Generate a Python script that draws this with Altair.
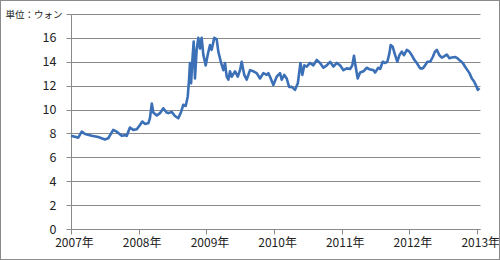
import altair as alt
import pandas as pd

dates = [
    "2007-01-01", "2007-02-09", "2007-02-28", "2007-03-18", "2007-04-23", "2007-05-28",
    "2007-07-03", "2007-07-21", "2007-08-17", "2007-09-05", "2007-10-02", "2007-10-19",
    "2007-10-29", "2007-11-15", "2007-12-03", "2007-12-22", "2008-01-08", "2008-01-21",
    "2008-02-04", "2008-02-22", "2008-03-02", "2008-03-12", "2008-03-20", "2008-04-08",
    "2008-04-25", "2008-05-13", "2008-05-31", "2008-06-09", "2008-06-27", "2008-07-15",
    "2008-08-02", "2008-08-17", "2008-08-29", "2008-09-11", "2008-09-22", "2008-09-29",
    "2008-10-04", "2008-10-10", "2008-10-17", "2008-10-24", "2008-10-31", "2008-11-09",
    "2008-11-18", "2008-11-27", "2008-12-06", "2008-12-15", "2008-12-28", "2009-01-08",
    "2009-01-20", "2009-01-29", "2009-02-12", "2009-02-25", "2009-03-06", "2009-03-21",
    "2009-04-02", "2009-04-11", "2009-04-20", "2009-04-29", "2009-05-08", "2009-05-17",
    "2009-06-04", "2009-06-19", "2009-07-01", "2009-07-10", "2009-07-24", "2009-08-06",
    "2009-08-24", "2009-09-11", "2009-09-29", "2009-10-17", "2009-11-04", "2009-11-22",
    "2009-12-01", "2009-12-10", "2009-12-28", "2010-01-15", "2010-02-02", "2010-02-11",
    "2010-02-25", "2010-03-10", "2010-03-23", "2010-04-06", "2010-04-24", "2010-05-09",
    "2010-05-16", "2010-05-23", "2010-06-02", "2010-06-13", "2010-06-26", "2010-07-14",
    "2010-08-01", "2010-08-19", "2010-09-06", "2010-09-24", "2010-10-12", "2010-10-30",
    "2010-11-17", "2010-12-05", "2010-12-23", "2011-01-10", "2011-01-28", "2011-02-15",
    "2011-02-27", "2011-03-08", "2011-03-17", "2011-03-28", "2011-04-10", "2011-04-28",
    "2011-05-16", "2011-06-03", "2011-06-21", "2011-06-30", "2011-07-17", "2011-07-27",
    "2011-08-10", "2011-08-23", "2011-09-04", "2011-09-15", "2011-09-22", "2011-10-03",
    "2011-10-16", "2011-10-28", "2011-11-08", "2011-11-21", "2011-12-03", "2011-12-18",
    "2012-01-01", "2012-01-14", "2012-01-26", "2012-02-10", "2012-02-28", "2012-03-13",
    "2012-03-26", "2012-04-07", "2012-04-22", "2012-05-06", "2012-05-18", "2012-05-28",
    "2012-06-11", "2012-06-24", "2012-07-06", "2012-07-21", "2012-08-04", "2012-08-17",
    "2012-09-03", "2012-09-16", "2012-09-30", "2012-10-15", "2012-10-27", "2012-11-09",
    "2012-11-20", "2012-12-03", "2012-12-15", "2012-12-26", "2013-01-04", "2013-01-13",
]
values = [
    7.8, 7.65, 8.15, 7.95, 7.8, 7.7,
    7.5, 7.6, 8.3, 8.15, 7.8, 7.85,
    7.8, 8.5, 8.3, 8.35, 8.7, 9.0,
    8.8, 8.85, 9.27, 10.5, 9.75, 9.5,
    9.7, 10.1, 9.75, 9.7, 9.8, 9.46,
    9.27, 9.8, 10.4, 10.3, 11.1, 12.5,
    13.9, 12.2, 14.15, 15.7, 12.6, 15.0,
    16.0, 15.1, 16.0, 14.6, 13.7, 14.6,
    15.4, 15.0, 16.0, 15.9, 14.85, 13.9,
    13.3, 13.9, 12.75, 12.5, 13.2, 12.75,
    13.2, 12.75, 13.3, 14.0, 12.9, 12.5,
    13.3, 13.2, 13.05, 12.6, 13.05, 12.9,
    13.05, 12.75, 12.05, 12.75, 13.05, 12.5,
    12.9, 12.6, 11.9, 11.9, 11.65, 12.2,
    13.05, 13.9, 12.9, 13.7, 13.6, 13.9,
    13.7, 14.15, 13.9, 13.5, 13.7, 14.0,
    13.6, 13.9, 13.7, 13.3, 13.45, 13.4,
    13.7, 14.5, 13.6, 12.6, 13.1, 13.2,
    13.5, 13.35, 13.3, 13.1, 13.5, 13.4,
    14.0, 13.9, 14.0, 14.7, 15.4, 15.25,
    14.55, 14.0, 14.55, 14.85, 14.55, 15.0,
    14.85, 14.55, 14.2, 13.9, 13.45, 13.45,
    13.7, 14.0, 14.0, 14.4, 14.85, 15.0,
    14.55, 14.35, 14.45, 14.6, 14.3, 14.35,
    14.4, 14.3, 14.1, 13.9, 13.6, 13.3,
    13.05, 12.6, 12.35, 12.0, 11.65, 11.8,
]
year_ticks = ["2007-01-01", "2008-01-01", "2009-01-01", "2010-01-01",
              "2011-01-01", "2012-01-01", "2013-01-01"]
y_ticks = [0, 2, 4, 6, 8, 10, 12, 14, 16, 18]
unit_label = "単位：ウォン"

df = pd.DataFrame({"date": pd.to_datetime(dates), "value": values})

FONT = "Noto Sans CJK JP"
GRAY = "#8a8a8a"

x_scale = alt.Scale(domain=["2007-01-01", "2013-01-16"], nice=False)
y_scale = alt.Scale(domain=[0, 18], nice=False)

line = alt.Chart(df).mark_line(color="#3b70b7", strokeWidth=2.6, strokeJoin="round").encode(
    x=alt.X(
        "date:T",
        scale=x_scale,
        axis=alt.Axis(
            title=None,
            values=[alt.DateTime(year=int(d[:4]), month=1, date=1) for d in year_ticks],
            labelExpr="timeFormat(datum.value, '%Y') + '年'",
            grid=False,
            domainColor=GRAY,
            tickColor=GRAY,
            tickSize=5,
            labelFont=FONT,
            labelFontSize=12,
            labelColor="#222222",
            labelPadding=3,
            labelOffset=3,
            labelFlush=False,
            labelOverlap=False,
        ),
    ),
    y=alt.Y(
        "value:Q",
        scale=y_scale,
        axis=alt.Axis(
            title=None,
            values=y_ticks,
            labelExpr=f"datum.value == 18 ? '{unit_label}' : datum.label",
            grid=True,
            gridColor=GRAY,
            gridWidth=1,
            domainColor=GRAY,
            tickColor=GRAY,
            tickSize=5,
            labelFont=FONT,
            labelFontSize={"condition": {"test": "datum.value == 18", "value": 9.5}, "value": 12.5},
            labelPadding={"condition": {"test": "datum.value == 18", "value": 4}, "value": 10},
            labelColor="#222222",
            labelFlush=False,
        ),
    ),
)

frame = alt.Chart(df).mark_rect(fill=None, stroke=GRAY, strokeWidth=1, clip=False).encode(
    x=alt.value(-70.5), x2=alt.value(428.5), y=alt.value(-13.5), y2=alt.value(245.5)
)

chart = alt.layer(frame, line).properties(
    width=409,
    height=215,
    autosize=alt.AutoSizeParams(type="none"),
    padding={"left": 71, "top": 14, "right": 20, "bottom": 31},
    background="white",
).configure_view(stroke=None)

chart.save("out.html", embed_options={"renderer": "svg", "actions": False})
